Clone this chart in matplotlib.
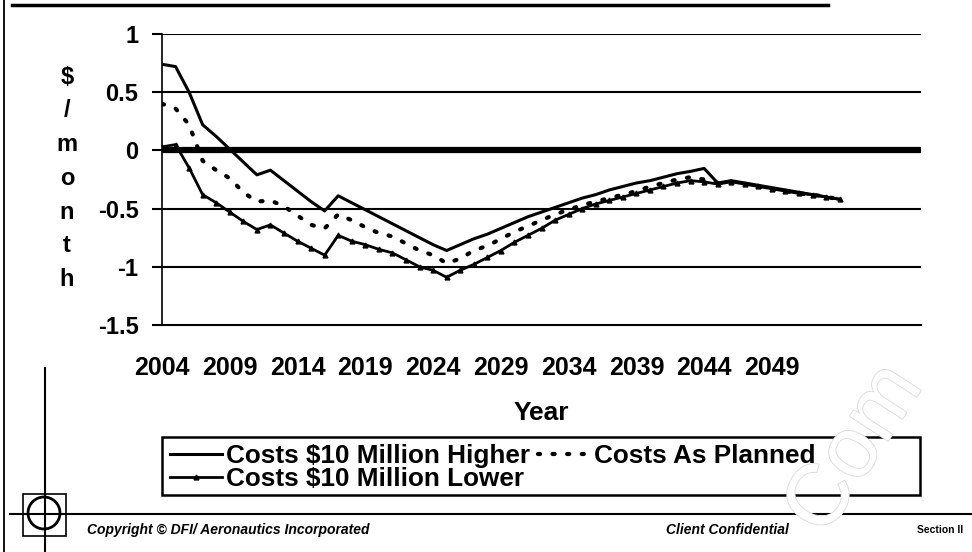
import matplotlib
matplotlib.use("Agg")
import matplotlib.pyplot as plt
from matplotlib.patches import Rectangle, Circle
import matplotlib.patheffects as pe

plt.rcParams['font.family'] = ['Liberation Sans', 'DejaVu Sans']

# values ($ / month), one per year 2004-2054
years = list(range(2004, 2055))
higher = [0.74, 0.72, 0.50, 0.22, 0.12, 0.01, -0.10, -0.21, -0.17, -0.26,
          -0.35, -0.44, -0.52, -0.39, -0.45, -0.51, -0.57, -0.63, -0.69, -0.75,
          -0.81, -0.86, -0.81, -0.76, -0.72, -0.67, -0.62, -0.57, -0.53, -0.49,
          -0.45, -0.41, -0.38, -0.34, -0.31, -0.28, -0.26, -0.23, -0.20, -0.18,
          -0.155, -0.28, -0.26, -0.28, -0.30, -0.32, -0.34, -0.36, -0.38, -0.40, -0.42]
planned = [0.40, 0.36, 0.22, -0.09, -0.17, -0.24, -0.36, -0.44, -0.43, -0.48,
           -0.56, -0.64, -0.67, -0.55, -0.60, -0.66, -0.71, -0.74, -0.80, -0.86,
           -0.90, -0.97, -0.93, -0.86, -0.82, -0.76, -0.70, -0.65, -0.60, -0.55,
           -0.51, -0.47, -0.44, -0.41, -0.38, -0.35, -0.31, -0.28, -0.25, -0.23,
           -0.25, -0.28, -0.27, -0.29, -0.31, -0.33, -0.35, -0.37, -0.38, -0.40, -0.42]
lower = [0.03, 0.05, -0.15, -0.38, -0.45, -0.53, -0.61, -0.68, -0.64, -0.71,
         -0.78, -0.84, -0.90, -0.73, -0.78, -0.81, -0.85, -0.88, -0.94, -1.00,
         -1.03, -1.09, -1.03, -0.98, -0.92, -0.86, -0.79, -0.73, -0.67, -0.60,
         -0.55, -0.50, -0.46, -0.43, -0.40, -0.37, -0.34, -0.31, -0.28, -0.26,
         -0.27, -0.29, -0.27, -0.29, -0.31, -0.33, -0.35, -0.37, -0.38, -0.40, -0.42]

series_labels = ["Costs $10 Million Higher", "Costs As Planned", "Costs $10 Million Lower"]
xtick_years = list(range(2004, 2050, 5))
yticks = [1, 0.5, 0, -0.5, -1, -1.5]
ytick_labels = ["1", "0.5", "0", "-0.5", "-1", "-1.5"]

W, H = 972, 552
fig = plt.figure(figsize=(W / 100, H / 100), dpi=100)

# page decorations in pixel coords
deco = fig.add_axes([0, 0, 1, 1], zorder=-1)
deco.set_xlim(0, W)
deco.set_ylim(H, 0)
deco.axis('off')
deco.text(840, 548, "Com", fontsize=62, color='white', rotation=57, rotation_mode='anchor',
          ha='left', va='bottom',
          path_effects=[pe.withStroke(linewidth=1.3, foreground='#dcdcdc')])
deco.plot([12, 828], [5, 5], color='black', lw=2.5)
deco.plot([4, 4], [0, H], color='black', lw=1.3)
deco.plot([45, 45], [368, H], color='black', lw=1.5)
deco.plot([10, W], [514, 514], color='black', lw=1.5)
deco.add_patch(Rectangle((23, 494), 43, 42, fill=False, lw=1.2, ec='black'))
deco.add_patch(Circle((44, 513), 16, fill=False, lw=2, ec='black'))
deco.add_patch(Rectangle((162, 437), 758, 58, fill=False, lw=1.8, ec='black'))
deco.text(87, 530, "Copyright \u00a9 DFI/ Aeronautics Incorporated", fontsize=10,
          fontweight='bold', style='italic', va='center', ha='left')
deco.text(666, 530, "Client Confidential", fontsize=10, fontweight='bold',
          style='italic', va='center', ha='left')
deco.text(917, 530, "Section II", fontsize=7.5, fontweight='bold', va='center', ha='left')

# stacked y label
for i, ch in enumerate("$/month"):
    deco.text(67, 77 + i * 33.8, ch, fontsize=17, fontweight='bold', ha='center', va='center')
deco.text(541, 413, "Year", fontsize=19, fontweight='bold', ha='center', va='center')

ax = fig.add_axes([162 / W, 1 - 325 / H, (921 - 162) / W, (325 - 34) / H])
ax.set_facecolor('none')

for y in yticks:
    if y in (0, -1.5):
        continue
    ax.axhline(y, color='black', lw=1.5, zorder=1)
ax.axhline(0, color='black', lw=4.5, zorder=1)

h1, = ax.plot(years, higher, color='black', lw=2.2, zorder=3)
h2, = ax.plot(years, planned, color='black', lw=3, linestyle=(0, (0.5, 3)),
              dash_capstyle='round', zorder=3)
h3, = ax.plot(years, lower, color='black', lw=2, marker='^', markersize=3.5, zorder=3)

ax.set_xlim(2004, 2060)
ax.set_ylim(-1.5, 1)
ax.set_xticks(xtick_years)
ax.set_xticklabels([str(y) for y in xtick_years], fontsize=18, fontweight='bold')
ax.set_yticks(yticks)
ax.set_yticklabels(ytick_labels, fontsize=17, fontweight='bold')
ax.tick_params(axis='x', length=0, pad=22)
ax.tick_params(axis='y', length=7, width=1.5, pad=10)
for s in ['top', 'right']:
    ax.spines[s].set_visible(False)
ax.spines['bottom'].set_linewidth(1.5)
ax.spines['left'].set_linewidth(1.2)

fig.legend([h1, h3, h2], [series_labels[0], series_labels[2], series_labels[1]],
           loc='upper left', bbox_to_anchor=(170 / W, 1 - 444 / H), ncol=2,
           frameon=False, prop={'weight': 'bold', 'size': 18.8},
           handlelength=2.0, handletextpad=0.15, columnspacing=0.3,
           borderaxespad=0, borderpad=0, labelspacing=-0.05, numpoints=1)

fig.savefig("out.png", dpi=100)
